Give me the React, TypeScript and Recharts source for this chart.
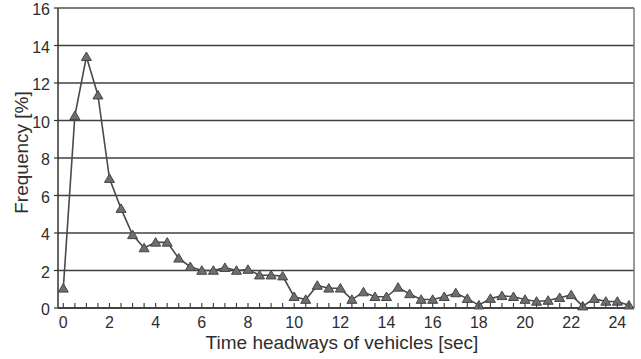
import React from 'react';
import { LineChart, Line, XAxis, YAxis, CartesianGrid, ReferenceLine } from 'recharts';

// time headway classes (sec), one every half second
const headways = [
  0, 0.5, 1, 1.5, 2, 2.5, 3, 3.5, 4, 4.5,
  5, 5.5, 6, 6.5, 7, 7.5, 8, 8.5, 9, 9.5,
  10, 10.5, 11, 11.5, 12, 12.5, 13, 13.5, 14, 14.5,
  15, 15.5, 16, 16.5, 17, 17.5, 18, 18.5, 19, 19.5,
  20, 20.5, 21, 21.5, 22, 22.5, 23, 23.5, 24, 24.5,
];

// share of vehicles in each class (%)
const frequency = [
  1.05, 10.25, 13.4, 11.35, 6.9, 5.3, 3.9, 3.2, 3.5, 3.5,
  2.65, 2.2, 2.0, 2.0, 2.15, 2.0, 2.05, 1.75, 1.75, 1.7,
  0.6, 0.45, 1.2, 1.05, 1.05, 0.45, 0.85, 0.6, 0.6, 1.1,
  0.75, 0.45, 0.45, 0.6, 0.8, 0.5, 0.15, 0.5, 0.65, 0.6,
  0.45, 0.35, 0.4, 0.55, 0.7, 0.1, 0.5, 0.35, 0.35, 0.15,
];

const xLabels = [0, 2, 4, 6, 8, 10, 12, 14, 16, 18, 20, 22, 24];
const yTicks = [0, 2, 4, 6, 8, 10, 12, 14, 16];

const X_MIN = -0.23;
const X_MAX = 24.72;

const data = headways.map((t, i) => ({ t, f: frequency[i] }));

const FONT = '"Liberation Sans", Arial, sans-serif';
const INK = '#2e2e2e';

function TriangleDot(props: any) {
  const { cx, cy, index } = props;
  if (cx == null || cy == null) return <g key={index} />;
  const w = 5;
  const h = 8.5;
  return (
    <path
      key={index}
      d={`M${cx},${cy - h / 2 - 0.5} L${cx + w},${cy + h / 2 - 0.5} L${cx - w},${cy + h / 2 - 0.5} Z`}
      fill="#6e6e6e"
      stroke="#444"
      strokeWidth={1}
    />
  );
}

// inward minor ticks every 0.5 s, labels on even seconds
function XTick(props: any) {
  const { x, y, payload } = props;
  const v = payload.value;
  return (
    <g>
      <line x1={x} y1={y} x2={x} y2={y - 5} stroke="#444" strokeWidth={1.2} />
      {xLabels.includes(v) && (
        <text x={x} y={y + 20} textAnchor="middle" fontSize={16} fontFamily={FONT} fill={INK}>
          {v}
        </text>
      )}
    </g>
  );
}

function YTick(props: any) {
  const { x, y, payload } = props;
  return (
    <text x={x} y={y + 7} textAnchor="end" fontSize={16} fontFamily={FONT} fill={INK}>
      {payload.value}
    </text>
  );
}

function XTitle(props: any) {
  const vb = props.viewBox || { x: 58, y: 308, width: 576, height: 51 };
  return (
    <text
      x={vb.x + vb.width / 2 - 4}
      y={vb.y + 41}
      textAnchor="middle"
      fontSize={19}
      fontFamily={FONT}
      fill={INK}
    >
      Time headways of vehicles [sec]
    </text>
  );
}

function YTitle(props: any) {
  const vb = props.viewBox || { x: 0, y: 8, width: 58, height: 300 };
  const cx = vb.x + 28;
  const cy = vb.y + vb.height / 2 - 5.5;
  return (
    <text
      x={cx}
      y={cy}
      transform={`rotate(-90, ${cx}, ${cy})`}
      textAnchor="middle"
      fontSize={19}
      fontFamily={FONT}
      fill={INK}
    >
      Frequency [%]
    </text>
  );
}

export default function App() {
  return (
    <div style={{ position: 'absolute', top: 0, left: 0, width: 641, height: 359, background: '#fff' }}>
      <LineChart width={641} height={359} data={data} margin={{ top: 8, right: 7, bottom: 0, left: 0 }}>
        <CartesianGrid horizontal vertical={false} stroke="#404040" strokeWidth={1.6} />
        <ReferenceLine y={16} stroke="#8a8a8a" strokeWidth={1.5} strokeDasharray="2 1" />
        <ReferenceLine x={X_MAX} stroke="#7a7a7a" strokeWidth={1.5} />
        <XAxis
          dataKey="t"
          type="number"
          domain={[X_MIN, X_MAX]}
          allowDataOverflow
          ticks={headways}
          interval={0}
          height={51}
          tickSize={0}
          tickMargin={0}
          tick={<XTick />}
          axisLine={{ stroke: '#333', strokeWidth: 1.5 }}
          label={{ content: <XTitle /> }}
        />
        <YAxis
          type="number"
          domain={[0, 16]}
          ticks={yTicks}
          interval={0}
          width={58}
          tickSize={4}
          tickMargin={4}
          tick={<YTick />}
          tickLine={{ stroke: '#333', strokeWidth: 1.2 }}
          axisLine={{ stroke: '#333', strokeWidth: 1.5 }}
          label={{ content: <YTitle /> }}
        />
        <Line
          type="linear"
          dataKey="f"
          stroke="#4a4a4a"
          strokeWidth={1.6}
          dot={TriangleDot}
          isAnimationActive={false}
        />
      </LineChart>
    </div>
  );
}
